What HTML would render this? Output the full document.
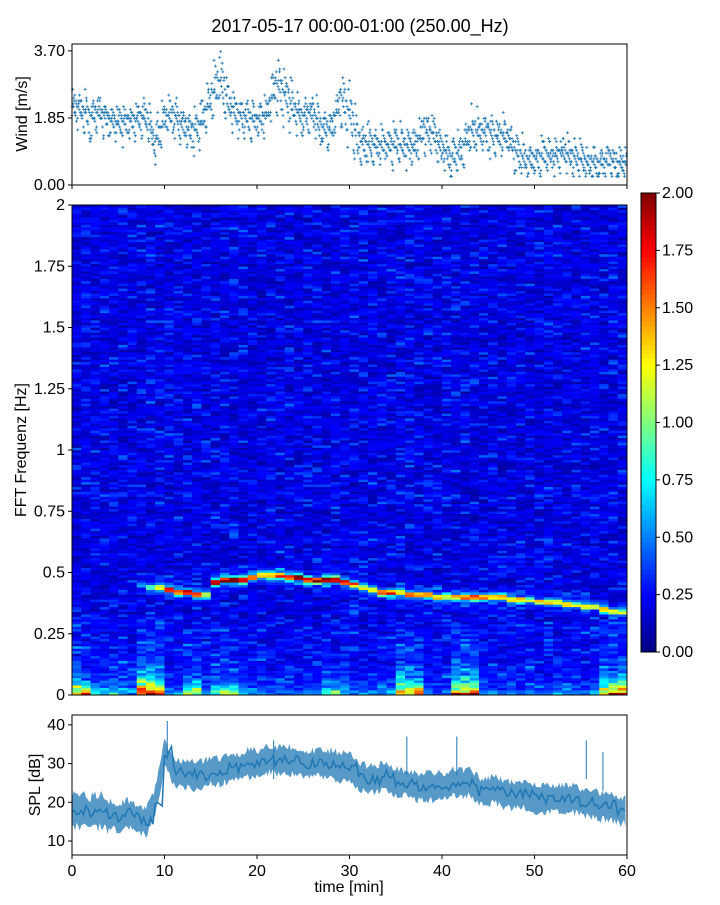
<!DOCTYPE html>
<html><head><meta charset="utf-8"><style>
body{margin:0;background:#fff}
svg text{font-family:"Liberation Sans",sans-serif;fill:#000}
</style></head><body>
<svg id="c" width="720" height="900" xmlns="http://www.w3.org/2000/svg">
<text x="360" y="32" font-size="18" text-anchor="middle">2017-05-17 00:00-01:00 (250.00_Hz)</text>
<g id="wind"></g>
<g id="spec"></g>
<g id="cbar"></g>
<g id="spl"></g>
</svg>
<script>
// ---- data ----
const minutes = [0,1,2,3,4,5,6,7,8,9,10,11,12,13,14,15,16,17,18,19,20,21,22,23,24,25,26,27,28,29,30,31,32,33,34,35,36,37,38,39,40,41,42,43,44,45,46,47,48,49,50,51,52,53,54,55,56,57,58,59];
const windMean = [2.2,2.1,1.9,2.0,1.8,1.7,1.75,1.8,1.9,1.2,1.8,2.0,1.6,1.5,1.7,2.4,2.9,2.2,2.0,1.8,1.8,1.9,2.8,2.5,2.1,1.9,2.0,1.6,1.5,2.4,2.0,1.2,1.1,1.1,1.1,1.1,1.1,1.0,1.5,1.4,1.0,0.8,0.9,1.5,1.4,1.5,1.3,1.4,0.9,0.7,0.7,0.8,0.8,0.9,0.8,0.7,0.6,0.6,0.7,0.6];
const windSpread = [0.5,0.5,0.5,0.5,0.45,0.45,0.45,0.5,0.5,0.7,0.5,0.5,0.5,0.5,0.5,0.7,0.8,0.5,0.5,0.5,0.5,0.5,0.8,0.7,0.5,0.5,0.5,0.5,0.5,0.7,0.7,0.5,0.5,0.5,0.5,0.5,0.5,0.5,0.6,0.5,0.5,0.5,0.5,0.6,0.5,0.5,0.5,0.5,0.5,0.45,0.45,0.45,0.45,0.45,0.45,0.45,0.45,0.45,0.45,0.45];
const ridgeFreq = [0.45,0.45,0.45,0.45,0.45,0.45,0.45,0.45,0.44,0.44,0.43,0.42,0.42,0.41,0.41,0.46,0.47,0.47,0.47,0.48,0.49,0.49,0.49,0.48,0.48,0.47,0.47,0.47,0.47,0.46,0.45,0.44,0.43,0.42,0.42,0.42,0.41,0.41,0.41,0.40,0.40,0.40,0.40,0.40,0.40,0.40,0.40,0.39,0.39,0.39,0.38,0.38,0.38,0.37,0.37,0.36,0.36,0.35,0.34,0.34];
const ridgeAmp = [0,0,0,0,0,0,0,0.4,0.8,1.0,1.5,1.6,1.6,1.5,1.0,1.7,2.0,2.0,1.7,1.6,1.5,1.5,1.6,1.8,2.0,1.9,1.9,2.0,1.8,1.5,1.3,1.2,1.2,1.5,1.6,1.4,1.3,1.2,1.3,1.3,1.1,1.1,1.5,1.6,1.5,1.3,1.3,1.2,1.2,1.1,1.1,1.2,1.1,1.1,1.0,1.1,1.0,1.2,1.0,1.0];
const lowEnergy = [1.6,1.5,0.7,0.6,0.9,0.8,0.5,2.2,2.2,2.0,0.3,0.4,1.2,1.2,0.3,1.0,1.0,1.0,0.5,0.4,0.4,0.3,0.3,0.3,0.3,0.3,0.3,0.9,0.8,0.8,0.3,0.3,0.3,0.3,0.4,1.7,1.7,1.6,0.3,0.3,0.3,1.8,1.8,1.8,0.3,0.3,0.3,0.3,0.3,0.3,0.3,0.3,0.3,0.3,0.3,0.3,0.3,1.8,1.9,1.9];
const splMean = [18,18,17,18,17,16,17,16,15,20,33,28,27,27,27,28,28,29,29,30,30,31,31,31,31,30,30,30,30,29,29,27,26,26,27,25,25,24,24,24,24,25,25,25,23,23,23,22,22,22,21,21,21,21,21,20,20,19,19,18];
const splSpread = [5,5,5,5,4,4,4,4,4,5,4,4,4,4,4,4,4,4,4,4,4,4,4,4,4,4,4,4,4,4,4,4,4,4,4,4,4,4,4,4,4,4,4,4,4,4,4,4,4,4,4,4,4,4,4,4,4,4,4,4];
const splSpikeT = [10.3,21.8,36.2,41.6,55.6,57.4];
const splSpikeV = [41,36,37,37,36,33];
const windTicks = ["0.00","1.85","3.70"];
const freqTicks = ["0","0.25","0.5","0.75","1","1.25","1.5","1.75","2"];
const cbarTicks = ["0.00","0.25","0.50","0.75","1.00","1.25","1.50","1.75","2.00"];
const timeTicks = [0,10,20,30,40,50,60];
const splTicks = [10,20,30,40];

// ---- helpers ----
const NS="http://www.w3.org/2000/svg";
function mk(tag,attrs,parent){const e=document.createElementNS(NS,tag);for(const k in attrs)e.setAttribute(k,attrs[k]);parent.appendChild(e);return e;}
const X0=72,X1=627;
const xs=t=>X0+(t/60)*(X1-X0);
function hash(a,b){let h=(a*374761393+b*668265263)|0;h=(h^(h>>>13))*1274126177|0;return ((h^(h>>>16))>>>0)/4294967296;}
function jet(v){v=Math.max(0,Math.min(1,v));
 const r=Math.max(0,Math.min(1,1.5-Math.abs(4*v-3))),g=Math.max(0,Math.min(1,1.5-Math.abs(4*v-2))),b=Math.max(0,Math.min(1,1.5-Math.abs(4*v-1)));
 return `rgb(${Math.round(r*255)},${Math.round(g*255)},${Math.round(b*255)})`;}
function frame(g,y0,y1){mk('rect',{x:X0,y:y0,width:X1-X0,height:y1-y0,fill:'none',stroke:'#000','stroke-width':1},g);}

// ---- wind ----
const gw=document.getElementById('wind');
const WY0=44,WY1=185,wy=v=>WY1-(v/3.89)*(WY1-WY0);
const offs=[-1,-0.7,-0.45,-0.25,-0.1,0,0.1,0.25,0.45,0.7,0.9,-0.85,0.35,-0.35,0.6,0.15];
minutes.forEach((m,i)=>{
  for(let k=0;k<26;k++){
    const t=m+k/26;
    const nx=i+1<windMean.length?windMean[i+1]:windMean[i];
    const mean=windMean[i]+(nx-windMean[i])*(k/26);
    let v=Math.max(0.2,mean+offs[(k*5+i*3)%offs.length]*windSpread[i]*(0.5+1.0*hash(i,k)));
    v=Math.round(v/0.08)*0.08;
    const p=mk('path',{d:`M${xs(t)-1.5},${wy(v)}h3M${xs(t)},${wy(v)-1.5}v3`,stroke:'#1f77b4','stroke-width':0.8},gw);
    
    
  }
});
frame(gw,WY0,WY1);
windTicks.forEach(s=>{const y=wy(parseFloat(s));mk('line',{x1:X0-4,x2:X0,y1:y,y2:y,stroke:'#000'},gw);
 const t=mk('text',{x:X0-7,y:y+5,'font-size':16,'text-anchor':'end'},gw);t.textContent=s;});
timeTicks.forEach(v=>mk('line',{x1:xs(v),x2:xs(v),y1:WY1,y2:WY1+4,stroke:'#000'},gw));
{const t=mk('text',{transform:'translate(27,114) rotate(-90)','font-size':16,'text-anchor':'middle'},gw);t.textContent='Wind [m/s]';}

// ---- spectrogram ----
const gs=document.getElementById('spec');
const SY0=205,SY1=695,fy=f=>SY1-(f/2)*(SY1-SY0);
const NR=200,df=2/NR;
minutes.forEach((m,c)=>{
  for(let r=0;r<NR;r++){
    const f=(r+0.5)*df;
    const h1=hash(r,c),h2=hash(c*7+1,r*3+2);
    let v=0.07+0.17*h1+0.25*Math.pow(h2,4);
    if(f<0.3)v+=0.12*hash(r+11,c+5)*(0.4+lowEnergy[c]*0.4);
    v+=lowEnergy[c]*Math.exp(-f/0.04)*(0.5+0.6*hash(r+3,c));
    v+=lowEnergy[c]*0.18*Math.exp(-f/0.12)*hash(r,c+9);
    v+=ridgeAmp[c]*Math.exp(-Math.pow((f-ridgeFreq[c])/0.011,2))*(0.75+0.35*hash(r+7,c+2));
    v+=ridgeAmp[c]*0.3*Math.exp(-Math.pow((f-ridgeFreq[c])/0.03,2))*hash(r+2,c+13);
    const cell=mk('rect',{x:xs(m),y:fy(f+df/2),width:(X1-X0)/60+0.4,height:(SY1-SY0)/NR+0.3,fill:jet(v/2)},gs);
    
    
  }
});
frame(gs,SY0,SY1);
freqTicks.forEach(s=>{const y=fy(parseFloat(s));mk('line',{x1:X0-4,x2:X0,y1:y,y2:y,stroke:'#000'},gs);
 const t=mk('text',{x:X0-7,y:y+5,'font-size':16,'text-anchor':'end'},gs);t.textContent=s;});
{const t=mk('text',{transform:'translate(26,450) rotate(-90)','font-size':16,'text-anchor':'middle'},gs);t.textContent='FFT Frequenz [Hz]';}

// ---- colorbar ----
const gc=document.getElementById('cbar');
const CY0=193,CY1=652;
for(let i=0;i<100;i++){mk('rect',{x:641,y:CY1-(i+1)*(CY1-CY0)/100,width:15,height:(CY1-CY0)/100+0.5,fill:jet((i+0.5)/100)},gc);}
mk('rect',{x:641,y:CY0,width:15,height:CY1-CY0,fill:'none',stroke:'#000'},gc);
cbarTicks.forEach(s=>{const y=CY1-(parseFloat(s)/2)*(CY1-CY0);mk('line',{x1:656,x2:660,y1:y,y2:y,stroke:'#000'},gc);
 const t=mk('text',{x:662,y:y+5,'font-size':16},gc);t.textContent=s;});

// ---- SPL ----
const gp=document.getElementById('spl');
const PY0=715,PY1=855,py=v=>841-(v-10)*3.87;
let up='',dn='';
minutes.forEach((m,i)=>{
  for(let k=0;k<6;k++){
    const t=m+k/6;const nx=i+1<splMean.length?splMean[i+1]:splMean[i];
    const mean=splMean[i]+(nx-splMean[i])*(k/6);
    up+=`${xs(t)},${py(mean+splSpread[i]*(0.6+0.5*hash(i,k)))} `;
    dn=`${xs(t)},${py(mean-splSpread[i]*(0.6+0.5*hash(k,i+3)))} `+dn;
  }
});
{const band=mk('polygon',{points:up+dn,fill:'#1f77b4','fill-opacity':0.75},gp);}
let mid='';
minutes.forEach((m,i)=>{for(let k=0;k<4;k++){const t=m+k/4;mid+=`${mid?'L':'M'}${xs(t)},${py(splMean[i]+(hash(i,k+20)-0.5)*3)}`;}});
mk('path',{d:mid,stroke:'#1f77b4',fill:'none','stroke-width':1.5},gp);
splSpikeT.forEach((t,i)=>{const l=mk('line',{x1:xs(t),x2:xs(t),y1:py(splSpikeV[i]),y2:py(splSpikeV[i]-10),stroke:'#1f77b4','stroke-width':1},gp);
 });
frame(gp,PY0,PY1);
splTicks.forEach(v=>{const y=py(v);mk('line',{x1:X0-4,x2:X0,y1:y,y2:y,stroke:'#000'},gp);
 const t=mk('text',{x:X0-7,y:y+5,'font-size':16,'text-anchor':'end'},gp);t.textContent=v;});
timeTicks.forEach(v=>{mk('line',{x1:xs(v),x2:xs(v),y1:PY1,y2:PY1+4,stroke:'#000'},gp);
 const t=mk('text',{x:xs(v),y:PY1+21,'font-size':16,'text-anchor':'middle'},gp);t.textContent=v;});
{const t=mk('text',{transform:'translate(40,785) rotate(-90)','font-size':16,'text-anchor':'middle'},gp);t.textContent='SPL [dB]';}
{const t=mk('text',{x:349,y:892,'font-size':16,'text-anchor':'middle'},gp);t.textContent='time [min]';}
</script>
</body></html>
